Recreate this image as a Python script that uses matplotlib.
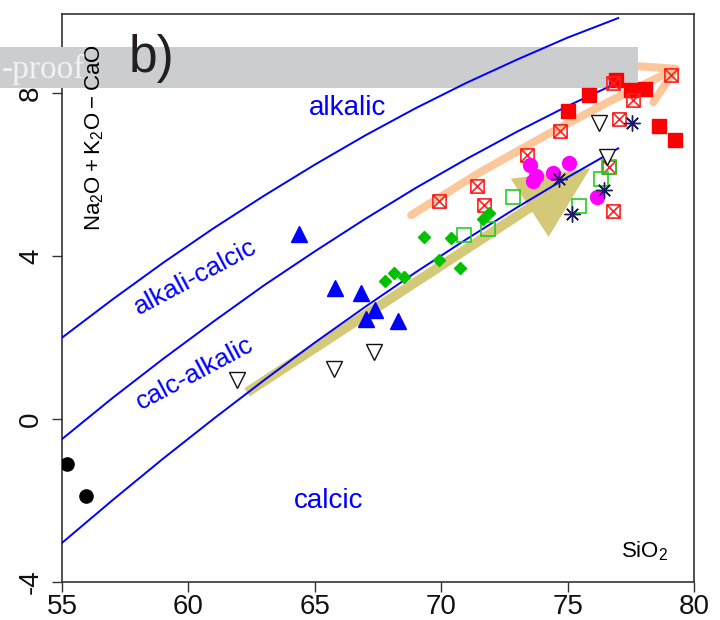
import matplotlib
matplotlib.use('Agg')
import matplotlib.pyplot as plt
from matplotlib.patches import FancyArrowPatch, Rectangle
from matplotlib.path import Path

plt.rcParams['font.family'] = ['Liberation Sans', 'DejaVu Sans']
plt.rcParams['mathtext.fontset'] = 'custom'
plt.rcParams['mathtext.rm'] = 'Liberation Sans'
plt.rcParams['axes.unicode_minus'] = False

# MALI field boundaries
sio2_curve = [55, 57, 59, 61, 63, 65, 67, 69, 71, 73, 75, 77]
alkalic_bound = [2.00, 2.94, 3.84, 4.69, 5.49, 6.25, 6.97, 7.64, 8.26, 8.83, 9.37, 9.85]
alkcalc_bound = [-0.49, 0.52, 1.48, 2.40, 3.29, 4.12, 4.92, 5.68, 6.39, 7.06, 7.69, 8.27]
calcic_bound = [-3.04, -1.99, -0.97, 0.01, 0.96, 1.88, 2.76, 3.61, 4.42, 5.20, 5.94, 6.65]

# sample groups (SiO2, Na2O+K2O-CaO)
red_sq_x = [75.03, 75.86, 76.90, 77.50, 78.07, 78.63, 79.25]
red_sq_y = [7.56, 7.95, 8.32, 8.09, 8.11, 7.21, 6.85]

cross_x = [69.90, 71.43, 71.69, 73.38, 74.70, 76.81, 77.03, 77.57, 76.62, 76.81, 79.08]
cross_y = [5.36, 5.73, 5.25, 6.48, 7.08, 8.25, 7.38, 7.83, 6.19, 5.11, 8.44]

green_sq_x = [70.90, 71.84, 72.85, 75.45, 76.31, 76.62]
green_sq_y = [4.52, 4.66, 5.46, 5.23, 5.89, 6.19]

diam_x = [67.78, 68.12, 68.54, 69.31, 70.39, 69.93, 70.74, 71.64, 71.88]
diam_y = [3.39, 3.60, 3.48, 4.47, 4.45, 3.90, 3.70, 4.91, 5.07]

tri_x = [64.37, 65.80, 66.84, 67.38, 67.01, 68.29]
tri_y = [4.54, 3.23, 3.11, 2.67, 2.47, 2.41]

dtri_x = [61.91, 65.76, 67.34, 76.23, 76.54]
dtri_y = [0.96, 1.24, 1.65, 7.27, 6.45]

mag_x = [73.51, 73.74, 73.62, 74.44, 75.04, 76.15]
mag_y = [6.23, 5.97, 5.85, 6.05, 6.30, 5.46]

ast_x = [74.67, 76.44, 75.17, 77.53]
ast_y = [5.91, 5.62, 5.03, 7.27]

blk_x = [55.18, 55.96]
blk_y = [-1.09, -1.88]

fig = plt.figure(figsize=(7.2, 6.2), dpi=100)
ax = fig.add_axes([0.0861, 0.0613, 0.8778, 0.9161])
ax.set_xlim(55, 80)
ax.set_ylim(-4, 9.95)

# trend arrows
khaki = FancyArrowPatch((62.32, 0.66), (75.89, 6.16),
                        arrowstyle='simple,head_length=52,head_width=50,tail_width=7',
                        mutation_scale=1, color='#d4c978', lw=0,
                        shrinkA=0, shrinkB=0, zorder=1)
ax.add_patch(khaki)
peach_path = Path([(68.81, 5.01), (71.53, 6.06), (74.19, 6.99), (76.80, 7.85), (79.56, 8.69)])
peach = FancyArrowPatch(path=peach_path, arrowstyle='->,head_length=25,head_width=14.5',
                        mutation_scale=1, color='#fcc89b', lw=5.8, zorder=1)
ax.add_patch(peach)

# boundary curves
for yb in (alkalic_bound, alkcalc_bound, calcic_bound):
    ax.plot(sio2_curve, yb, color='#0000ff', lw=1.4, zorder=3)

# square with cross marker
xsq = Path([(-1, -1), (1, -1), (1, 1), (-1, 1), (-1, -1),
            (-1, -1), (1, 1), (-1, 1), (1, -1)],
           [Path.MOVETO, Path.LINETO, Path.LINETO, Path.LINETO, Path.CLOSEPOLY,
            Path.MOVETO, Path.LINETO, Path.MOVETO, Path.LINETO])

ax.plot(red_sq_x, red_sq_y, ls='none', marker='s', ms=9.5, color='#ff0000', mec='#ff0000', zorder=4)
ax.plot(cross_x, cross_y, ls='none', marker=xsq, ms=9.5, mfc='none', mec='#ff2020', mew=1.2, zorder=4)
ax.plot(green_sq_x, green_sq_y, ls='none', marker='s', ms=9.5, mfc='none', mec='#22cc22', mew=1.2, zorder=4)
ax.plot(diam_x, diam_y, ls='none', marker='D', ms=6, color='#00c000', zorder=4)
ax.plot(tri_x, tri_y, ls='none', marker='^', ms=11.5, color='#0000ff', zorder=4)
ax.plot(dtri_x, dtri_y, ls='none', marker='v', ms=11.5, mfc='white', mec='#111111', mew=1.0, zorder=4)
ax.plot(mag_x, mag_y, ls='none', marker='o', ms=10, color='#ff00ff', zorder=4)
ax.plot(ast_x, ast_y, ls='none', marker=(8, 2, 0), ms=11.5, mec='#1c1c66', mew=1.0, zorder=4)
ax.plot(blk_x, blk_y, ls='none', marker='o', ms=9.5, color='black', zorder=4)

# field names
blue = '#0000ff'
ax.text(66.29, 7.48, 'alkalic', color=blue, fontsize=20, ha='center', va='baseline', zorder=5)
ax.text(60.26, 3.49, 'alkali-calcic', color=blue, fontsize=19, rotation=28,
        rotation_mode='anchor', ha='center', va='center', zorder=5)
ax.text(60.26, 1.12, 'calc-alkalic', color=blue, fontsize=19, rotation=28,
        rotation_mode='anchor', ha='center', va='center', zorder=5)
ax.text(65.56, -2.18, 'calcic', color=blue, fontsize=20, ha='center', va='baseline', zorder=5)

ax.text(0.060, 0.783, r'$\mathregular{Na_2O + K_2O - CaO}$', transform=ax.transAxes,
        rotation=90, rotation_mode='anchor', ha='center', va='baseline', fontsize=16, zorder=5)
ax.text(78.06, -3.39, r'$\mathregular{SiO_2}$', ha='center', va='baseline', fontsize=16, zorder=5)

ax.set_xticks([55, 60, 65, 70, 75, 80])
ax.set_yticks([-4, 0, 4, 8])
ax.tick_params(labelsize=20, length=7, width=1, color='#333333', labelcolor='#111111')
ax.tick_params(axis='y', labelrotation=90, pad=6)
ax.tick_params(axis='x', pad=2)
for lab in ax.get_yticklabels():
    lab.set_va('center')
for sp in ax.spines.values():
    sp.set_color('#333333')
    sp.set_linewidth(1.2)
ax.yaxis.set_zorder(2.7)

# grey banner of the page watermark
ax.add_patch(Rectangle((0, 0.858), 0.886, 0.066, transform=fig.transFigure,
                       facecolor='#cccdcf', edgecolor='none', clip_on=False, zorder=2.6))
fig.text(0.118, 0.874, '-proof', ha='right', va='baseline', fontsize=24,
         family='Liberation Serif', color='#f2f2f2')
fig.text(0.178, 0.884, 'b)', ha='left', va='baseline', fontsize=37, color='#231f20')

fig.savefig('out.png', dpi=100)
